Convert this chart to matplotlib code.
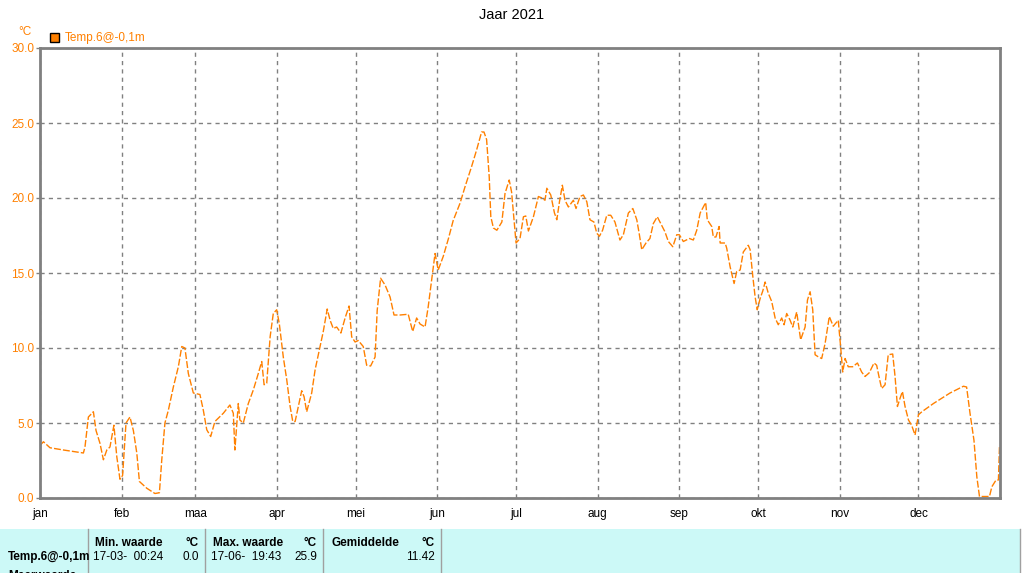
"""
Jaar 2021: temperature at -0.1 m, with a summary strip below the chart.
"""
import matplotlib.pyplot as plt
from matplotlib.patches import Rectangle

# day of year (0 = 1 jan) and temperature in degrees C
days = [
    0, 1.3, 3.8, 8.9, 16.5, 17.1, 18.4, 20.3, 21.3, 22.8, 24.1, 25.4, 26.6,
    28.1, 29.2, 30.4, 31.4, 32.7, 34.2, 35.5, 36.8, 37.8, 40.6, 43.7, 45.4,
    46.3, 47.5, 48.8, 50.7, 52.6, 53.9, 55.1, 56.4, 58.3, 60.8, 62.1, 63.4,
    64.9, 66.5, 69.7, 72.2, 73.5, 74.1, 75.4, 76.0, 77.3, 79.2, 81.1, 83.0,
    84.3, 85.2, 86.2, 87.5, 88.7, 90.0, 91.0, 92.5, 93.8, 95.1, 96.1, 97.0,
    98.2, 99.5, 100.4, 101.4, 103.3, 104.6, 106.5, 107.7, 109.2, 110.3,
    111.5, 112.8, 114.4, 116.0, 117.5, 118.5, 119.8, 121.0, 122.9, 124.2,
    125.7, 127.4, 128.2, 129.5, 131.2, 133.1, 134.6, 136.9, 140.0, 141.7,
    143.2, 144.5, 146.4, 147.6, 148.9, 150.2, 151.4, 153.3, 155.3, 157.1,
    159.7, 161.6, 164.1, 166.0, 167.9, 168.8, 169.8, 170.8, 171.4, 172.4,
    173.7, 175.6, 176.8, 178.4, 179.3, 180.0, 181.0, 182.5, 183.8, 184.7,
    185.7, 187.6, 189.5, 190.8, 192.0, 192.7, 194.2, 195.6, 196.5, 197.5,
    198.6, 199.6, 200.9, 202.8, 203.8, 205.3, 206.6, 207.9, 209.1, 210.6,
    211.7, 212.7, 213.9, 215.5, 217.0, 218.6, 220.5, 221.8, 223.7, 225.4,
    226.9, 227.8, 228.8, 230.4, 231.9, 233.2, 234.7, 236.0, 237.6, 238.9,
    240.6, 242.1, 243.1, 244.6, 246.9, 248.4, 249.7, 251.0, 252.2, 253.1,
    253.7, 255.4, 256.0, 257.0, 258.2, 258.6, 260.5, 261.1, 262.4, 263.9,
    264.9, 266.2, 267.4, 269.3, 270.0, 271.0, 271.9, 272.7, 273.8, 274.8,
    275.7, 276.9, 278.2, 279.5, 280.7, 282.0, 282.9, 283.9, 285.2, 286.2,
    287.7, 288.7, 289.2, 290.9, 291.8, 292.8, 293.8, 294.7, 296.0, 297.2,
    298.5, 300.1, 301.6, 303.5, 304.4, 305.2, 306.1, 307.3, 309.0, 310.8,
    312.4, 313.7, 315.3, 317.1, 318.1, 319.1, 320.0, 321.3, 322.5, 324.2,
    325.1, 326.0, 327.0, 327.9, 328.9, 330.2, 331.4, 332.7, 334.0, 335.3,
    339.7, 346.0, 351.1, 352.3, 353.6, 355.1, 356.2, 357.2, 361.0, 361.9,
    363.5, 364.4, 364.8,
]
temps = [
    3.5, 3.75, 3.35, 3.2, 3.0, 3.4, 5.4, 5.75, 4.5, 3.65, 2.55, 3.2, 3.4,
    4.85, 2.75, 1.25, 1.5, 5.0, 5.4, 4.5, 3.0, 1.1, 0.65, 0.3, 0.35,
    2.55, 5.0, 5.85, 7.4, 8.75, 10.1, 10.0, 8.3, 7.0, 6.9, 5.85, 4.55,
    4.1, 5.1, 5.65, 6.2, 5.65, 3.2, 6.3, 5.2, 5.0, 6.3, 7.2, 8.3,
    9.1, 7.55, 7.65, 10.75, 12.3, 12.55, 11.6, 9.4, 7.9, 6.1, 5.1, 5.1,
    6.1, 7.15, 6.75, 5.75, 7.0, 8.55, 10.1, 11.1, 12.6, 11.85,
    11.3, 11.4, 11.0, 12.0, 12.8, 10.75, 10.4, 10.5, 10.1, 8.85,
    8.8, 9.4, 12.5, 14.65, 14.2, 13.4, 12.2, 12.2, 12.25, 11.1,
    12.0, 11.6, 11.4, 12.75, 14.5, 16.3, 15.2, 16.1, 17.3, 18.5,
    19.65, 20.75, 22.1, 23.2, 24.4, 24.4, 23.9, 21.4, 18.75, 18.0,
    17.85, 18.4, 20.3, 21.2, 20.4, 19.0, 17.0, 17.3, 18.75, 18.8,
    17.8, 18.75, 20.1, 20.0, 19.85, 20.65, 20.2, 19.0, 18.55, 19.75,
    20.85, 19.85, 19.4, 19.85, 19.3, 20.1, 20.2, 19.75, 18.55, 18.4,
    17.65, 17.45, 17.85, 18.85, 18.85, 18.4, 17.2, 17.55, 19.0, 19.3,
    18.55, 17.65, 16.55, 17.0, 17.3, 18.3, 18.75, 18.3, 17.75, 17.1,
    16.75, 17.55, 17.55, 17.1, 17.3, 17.2, 17.85, 19.0, 19.4, 19.7,
    18.55, 18.1, 17.4, 17.4, 18.1, 17.0, 17.0, 16.65, 15.4, 14.3,
    15.1, 15.2, 16.4, 16.85, 16.55, 14.8, 13.4, 12.55, 13.3, 13.8,
    14.4, 13.65, 13.1, 12.0, 11.55, 12.0, 11.55, 12.3, 11.85, 11.4,
    12.4, 11.2, 10.55, 11.4, 13.2, 13.75, 12.55, 9.55, 9.4, 9.3,
    10.3, 12.1, 11.45, 11.85, 10.1, 8.4, 9.3, 8.75, 8.75, 9.0,
    8.4, 8.1, 8.35, 9.0, 8.85, 8.0, 7.3, 7.55, 9.55, 9.6,
    8.1, 6.1, 6.65, 7.1, 6.1, 5.2, 4.85, 4.2, 5.55, 5.75,
    6.3, 7.0, 7.45, 7.4, 5.65, 3.85, 1.4, 0.1, 0.1, 0.75,
    1.2, 1.2, 3.4,
]

month_starts = [0, 31, 59, 90, 120, 151, 181, 212, 243, 273, 304, 334]
month_labels = ["jan", "feb", "maa", "apr", "mei", "jun",
                "jul", "aug", "sep", "okt", "nov", "dec"]
y_ticks = [0, 5, 10, 15, 20, 25, 30]

series_name = "Temp.6@-0,1m"
stat_headers = ["Min. waarde", "Max. waarde", "Gemiddelde"]
stat_times = ["17-03-  00:24", "17-06-  19:43", ""]
stat_values = ["0.0", "25.9", "11.42"]

ORANGE = "#FF8000"
GREY = "#808080"
CYAN = "#CCF9F7"

plt.rcParams["font.family"] = ["Liberation Sans", "DejaVu Sans"]

W, H = 1024, 573
fig = plt.figure(figsize=(W / 100, H / 100), dpi=100)
ax = fig.add_axes([40 / W, 1 - 498 / H, 960 / W, 450 / H])

ax.plot(days, temps, color=ORANGE, linewidth=1.0, dashes=(5, 1.5))

ax.set_xlim(0, 365)
ax.set_ylim(0, 30)
ax.set_yticks(y_ticks)
ax.set_yticklabels([f"{v:.1f}" for v in y_ticks])
ax.set_xticks(month_starts)
ax.set_xticklabels(month_labels)
ax.grid(True, color=GREY, linestyle=(0, (3, 3)), linewidth=1.0)
ax.tick_params(axis="y", colors=GREY, labelcolor=ORANGE, labelsize=8.5,
               length=3, width=1, pad=1)
ax.tick_params(axis="x", length=0, labelsize=8.5, labelcolor="black", pad=7)
for spine in ax.spines.values():
    spine.set_color(GREY)
    spine.set_linewidth(2)

fig.text(0.5, 1 - 15 / H, "Jaar 2021", ha="center", va="center", fontsize=10.5)
fig.text(25 / W, 1 - 32 / H, "°C", ha="center", va="center",
         fontsize=8.5, color=ORANGE)
fig.patches.append(Rectangle((50 / W, 1 - 42 / H), 9 / W, 9 / H,
                             transform=fig.transFigure, facecolor=ORANGE,
                             edgecolor="black", linewidth=1))
fig.text(65 / W, 1 - 38 / H, series_name, ha="left", va="center",
         fontsize=8.5, color=ORANGE)

# summary strip
fig.patches.append(Rectangle((0, 0), 1021 / W, 44 / H,
                             transform=fig.transFigure, facecolor=CYAN,
                             edgecolor="none"))
for sx in [88, 205, 323, 441, 1020]:
    fig.lines.append(plt.Line2D([sx / W, sx / W], [0, 44 / H],
                                transform=fig.transFigure,
                                color="#A0A0A0", linewidth=1))

col_left = [95, 213, 331]
col_right = [199, 317, 435]
for i in range(3):
    fig.text(col_left[i] / W, 1 - 543 / H, stat_headers[i], ha="left",
             va="center", fontsize=8.5, fontweight="bold")
    fig.text(col_right[i] / W, 1 - 543 / H, "°C", ha="right",
             va="center", fontsize=8.5, fontweight="bold")
    fig.text((col_left[i] - 2) / W, 1 - 557 / H, stat_times[i], ha="left",
             va="center", fontsize=8.5)
    fig.text(col_right[i] / W, 1 - 557 / H, stat_values[i], ha="right",
             va="center", fontsize=8.5)
fig.text(8 / W, 1 - 557 / H, series_name, ha="left", va="center",
         fontsize=8.5, fontweight="bold")
fig.text(8 / W, 1 - 576 / H, "Meerwaarde", ha="left", va="center",
         fontsize=8.5, fontweight="bold")

fig.savefig("out.png", dpi=100)
